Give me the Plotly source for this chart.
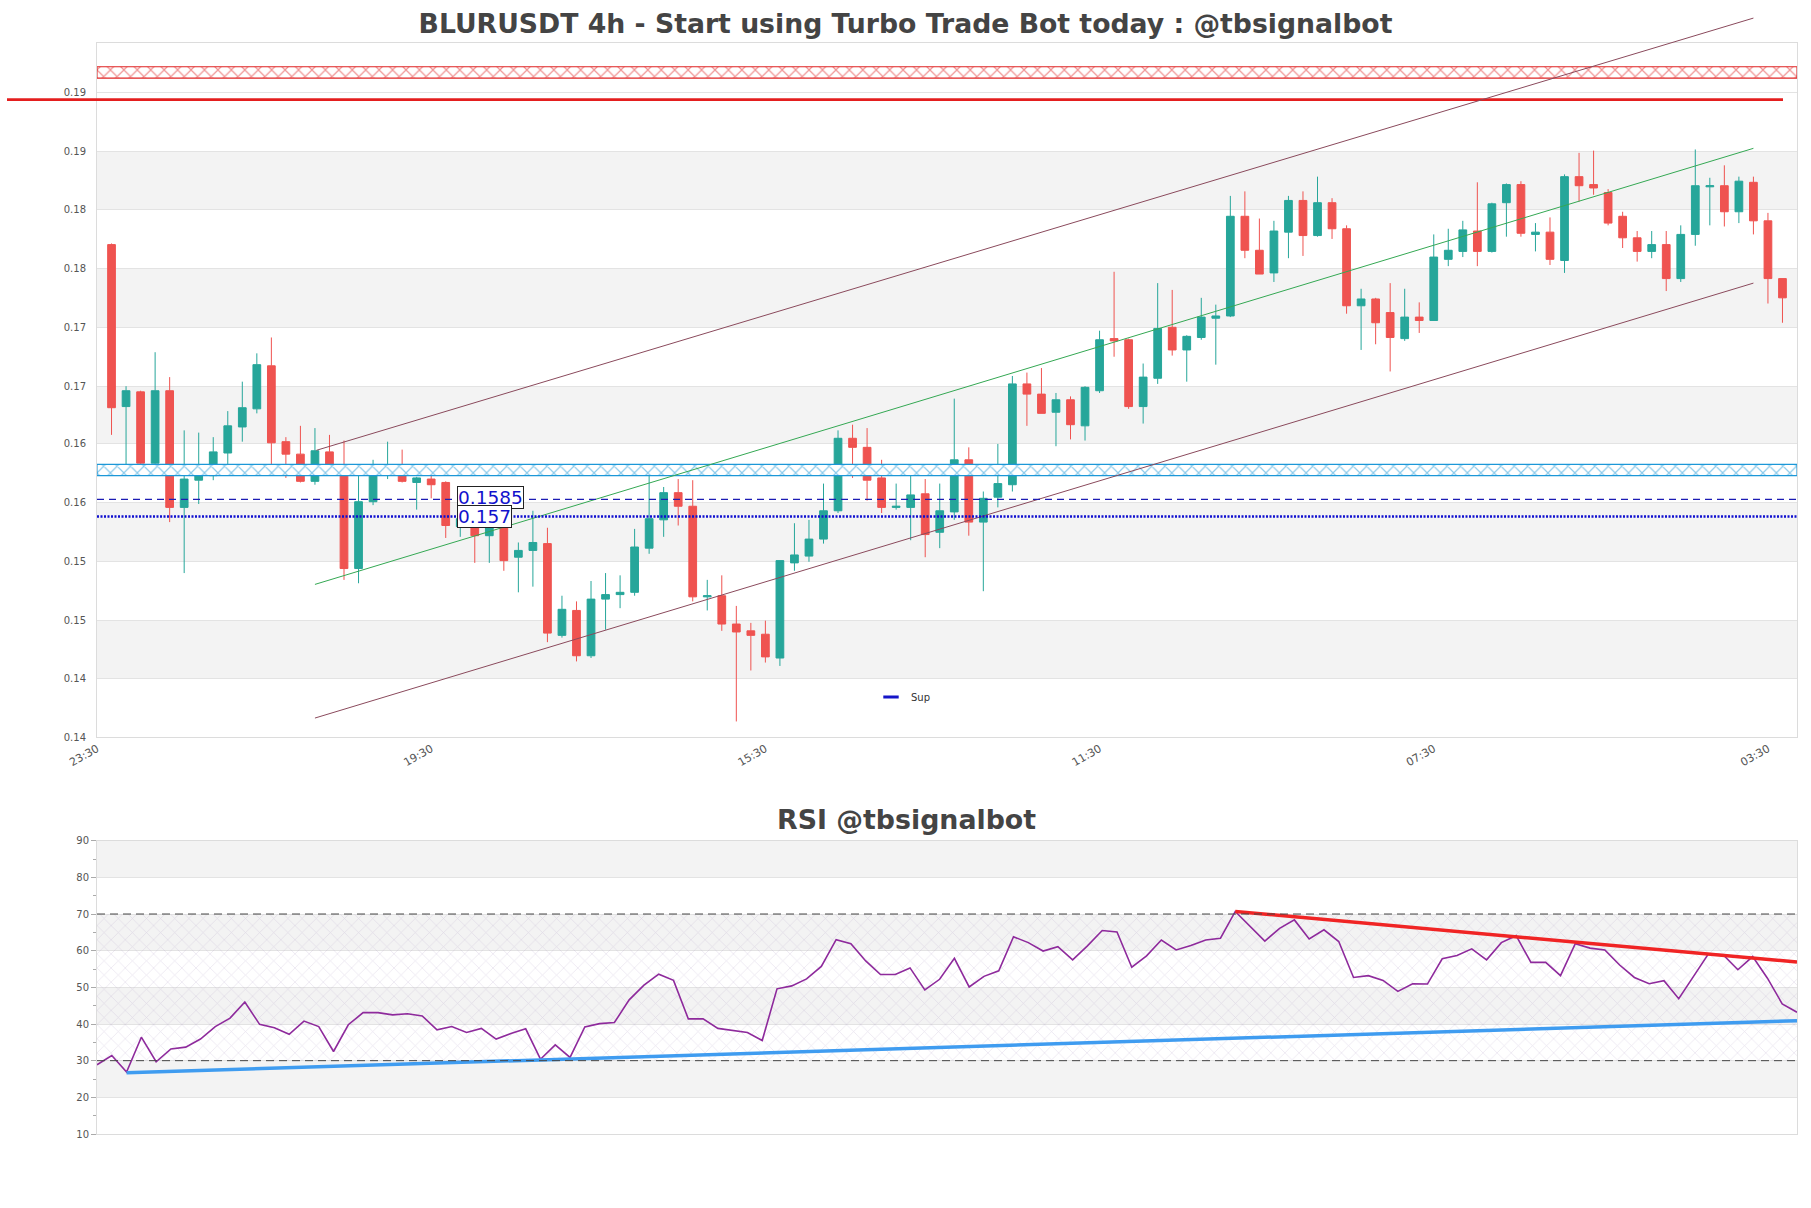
import plotly.graph_objects as go

# ---------------- data ----------------
opens = [0.1810, 0.1667, 0.1680, 0.1617, 0.1681, 0.1578, 0.1602, 0.1606, 0.1626, 0.1649,
         0.1665, 0.1703, 0.1636, 0.1625, 0.1601, 0.1627, 0.1612, 0.1524, 0.1583, 0.1607,
         0.1612, 0.1600, 0.1603, 0.1600, 0.1561, 0.1565, 0.1553, 0.1560, 0.1534, 0.1540,
         0.1546, 0.1465, 0.1487, 0.1447, 0.1497, 0.1501, 0.1503, 0.1542, 0.1567, 0.1591,
         0.1579, 0.1499, 0.1500, 0.1475, 0.1469, 0.1466, 0.1445, 0.1529, 0.1535, 0.1550,
         0.1575, 0.1639, 0.1631, 0.1604, 0.1578, 0.1578, 0.1590, 0.1556, 0.1574, 0.1620,
         0.1565, 0.1587, 0.1598, 0.1687, 0.1678, 0.1662, 0.1673, 0.1650, 0.1681, 0.1727,
         0.1726, 0.1667, 0.1692, 0.1737, 0.1717, 0.1728, 0.1745, 0.1747, 0.1835, 0.1805,
         0.1785, 0.1821, 0.1849, 0.1818, 0.1847, 0.1824, 0.1756, 0.1762, 0.1750, 0.1727,
         0.1746, 0.1743, 0.1797, 0.1804, 0.1822, 0.1804, 0.1847, 0.1863, 0.1819, 0.1821,
         0.1796, 0.1870, 0.1863, 0.1856, 0.1835, 0.1816, 0.1804, 0.1810, 0.1780, 0.1819,
         0.1861, 0.1862, 0.1839, 0.1865, 0.1831, 0.1780]
highs = [0.1811, 0.1685, 0.1681, 0.1715, 0.1693, 0.1646, 0.1644, 0.1640, 0.1663, 0.1689,
         0.1714, 0.1728, 0.1640, 0.1650, 0.1648, 0.1642, 0.1637, 0.1615, 0.1620, 0.1636,
         0.1629, 0.1605, 0.1612, 0.1601, 0.1575, 0.1570, 0.1562, 0.1564, 0.1547, 0.1575,
         0.1560, 0.1500, 0.1495, 0.1513, 0.1520, 0.1518, 0.1559, 0.1606, 0.1596, 0.1603,
         0.1602, 0.1514, 0.1518, 0.1491, 0.1476, 0.1478, 0.1531, 0.1564, 0.1567, 0.1599,
         0.1646, 0.1651, 0.1648, 0.1620, 0.1599, 0.1606, 0.1603, 0.1599, 0.1674, 0.1631,
         0.1592, 0.1634, 0.1694, 0.1697, 0.1701, 0.1679, 0.1676, 0.1685, 0.1734, 0.1786,
         0.1727, 0.1705, 0.1776, 0.1770, 0.1730, 0.1763, 0.1757, 0.1853, 0.1857, 0.1833,
         0.1831, 0.1853, 0.1857, 0.1870, 0.1851, 0.1827, 0.1771, 0.1763, 0.1776, 0.1771,
         0.1759, 0.1819, 0.1824, 0.1831, 0.1865, 0.1847, 0.1864, 0.1866, 0.1829, 0.1834,
         0.1872, 0.1891, 0.1893, 0.1859, 0.1839, 0.1822, 0.1822, 0.1822, 0.1827, 0.1894,
         0.1869, 0.1880, 0.1870, 0.1870, 0.1838, 0.1780]
lows = [0.1642, 0.1616, 0.1615, 0.1606, 0.1565, 0.1520, 0.1581, 0.1602, 0.1614, 0.1636,
        0.1661, 0.1614, 0.1604, 0.1600, 0.1598, 0.1610, 0.1514, 0.1511, 0.1580, 0.1603,
        0.1600, 0.1576, 0.1586, 0.1551, 0.1552, 0.1529, 0.1529, 0.1522, 0.1503, 0.1508,
        0.1459, 0.1463, 0.1442, 0.1445, 0.1470, 0.1489, 0.1500, 0.1537, 0.1552, 0.1562,
        0.1495, 0.1487, 0.1469, 0.1389, 0.1434, 0.1441, 0.1438, 0.1522, 0.1530, 0.1546,
        0.1573, 0.1604, 0.1584, 0.1573, 0.1576, 0.1549, 0.1534, 0.1542, 0.1567, 0.1553,
        0.1504, 0.1578, 0.1592, 0.1650, 0.1661, 0.1632, 0.1638, 0.1637, 0.1679, 0.1711,
        0.1665, 0.1652, 0.1687, 0.1712, 0.1689, 0.1726, 0.1704, 0.1746, 0.1798, 0.1784,
        0.1777, 0.1798, 0.1800, 0.1817, 0.1815, 0.1749, 0.1717, 0.1722, 0.1698, 0.1725,
        0.1732, 0.1743, 0.1791, 0.1799, 0.1791, 0.1803, 0.1817, 0.1817, 0.1804, 0.1792,
        0.1785, 0.1848, 0.1854, 0.1827, 0.1807, 0.1795, 0.1798, 0.1769, 0.1777, 0.1809,
        0.1827, 0.1826, 0.1829, 0.1819, 0.1758, 0.1741]
closes = [0.1666, 0.1681, 0.1617, 0.1681, 0.1578, 0.1603, 0.1606, 0.1627, 0.1650, 0.1666,
          0.1704, 0.1635, 0.1625, 0.1601, 0.1628, 0.1612, 0.1524, 0.1583, 0.1610, 0.1610,
          0.1601, 0.1604, 0.1598, 0.1562, 0.1568, 0.1553, 0.1560, 0.1531, 0.1540, 0.1547,
          0.1467, 0.1488, 0.1447, 0.1497, 0.1501, 0.1503, 0.1543, 0.1568, 0.1591, 0.1579,
          0.1499, 0.1500, 0.1475, 0.1468, 0.1465, 0.1446, 0.1531, 0.1536, 0.1550, 0.1575,
          0.1639, 0.1631, 0.1602, 0.1578, 0.1579, 0.1589, 0.1554, 0.1575, 0.1620, 0.1565,
          0.1586, 0.1599, 0.1687, 0.1678, 0.1661, 0.1673, 0.1651, 0.1684, 0.1726, 0.1725,
          0.1667, 0.1693, 0.1736, 0.1717, 0.1729, 0.1746, 0.1747, 0.1835, 0.1805, 0.1784,
          0.1822, 0.1849, 0.1818, 0.1847, 0.1824, 0.1756, 0.1762, 0.1741, 0.1728, 0.1746,
          0.1743, 0.1799, 0.1805, 0.1823, 0.1804, 0.1846, 0.1863, 0.1820, 0.1821, 0.1797,
          0.1870, 0.1862, 0.1860, 0.1829, 0.1816, 0.1804, 0.1810, 0.1780, 0.1819, 0.1862,
          0.1862, 0.1839, 0.1866, 0.1831, 0.1780, 0.1763]

rsi_values = [28.9, 31.4, 26.9, 36.4, 29.7, 33.2, 33.7, 35.9, 39.3, 41.6,
              46.0, 39.9, 39.0, 37.2, 40.8, 39.3, 32.5, 39.8, 43.1, 43.1,
              42.5, 42.8, 42.2, 38.4, 39.3, 37.7, 38.8, 35.9, 37.4, 38.7,
              30.4, 34.3, 30.9, 39.2, 40.1, 40.4, 46.6, 50.6, 53.6, 51.9,
              41.4, 41.4, 38.8, 38.3, 37.7, 35.5, 49.6, 50.4, 52.3, 55.7,
              63.0, 61.9, 57.2, 53.5, 53.5, 55.3, 49.3, 52.2, 57.9, 50.1,
              53.0, 54.5, 63.8, 62.2, 59.9, 61.1, 57.5, 61.3, 65.5, 65.1,
              55.5, 58.6, 62.9, 60.2, 61.4, 62.9, 63.4, 70.7, 66.6, 62.6,
              66.1, 68.4, 63.2, 65.7, 62.5, 52.7, 53.2, 51.9, 48.9, 51.0,
              50.9, 57.8, 58.7, 60.5, 57.5, 62.2, 64.1, 56.8, 56.8, 53.2,
              61.9, 60.7, 60.2, 56.1, 52.7, 51.0, 51.8, 46.9, 53.0, 59.1,
              58.9, 54.8, 58.4, 52.5, 45.5, 43.2]

x_tick_pos = [-1, 22, 45, 68, 91, 114]
x_tick_text = ["23:30", "19:30", "15:30", "11:30", "07:30", "03:30"]
price_tick_vals = [0.1375, 0.1427, 0.1478, 0.1530, 0.1582, 0.1634,
                   0.1685, 0.1737, 0.1789, 0.1841, 0.1892, 0.1944]
price_tick_text = ["0.14", "0.14", "0.15", "0.15", "0.16", "0.16",
                   "0.17", "0.17", "0.18", "0.18", "0.19", "0.19"]
price_range = [0.1375, 0.1988]
x_range = [-1, 116]

resistance_zone = [0.1957, 0.1967]
resistance_line = 0.1938
support_zone = [0.1606, 0.1616]
support_dashed = 0.1585
support_dotted = 0.157
label_x = 23.8

channel_x = [14, 113]
channel_upper = [0.1628, 0.2010]
channel_mid = [0.1510, 0.1895]
channel_lower = [0.1392, 0.1776]

rsi_range = [10, 90]
rsi_x_range = [0, 115]
rsi_zone = [30, 70]
rsi_support_x = [2, 115]
rsi_support_y = [26.7, 40.9]
rsi_resist_x = [77, 115]
rsi_resist_y = [70.7, 56.9]

# ---------------- styles / layout geometry ----------------
UP = "#26a69a"
DOWN = "#ef5350"
BROWN = "#8a4a5c"
GREEN = "#34a853"
BAND = "#f3f3f3"
GRID = "#e3e3e3"
AXLINE = "#dcdcdc"
FONT = "DejaVu Sans"
W, H = 1811, 1208
M_L, M_R, M_T, M_B = 97, 14, 43, 74
PLOT_H = H - M_T - M_B


def py(pix):  # page pixel row -> paper fraction
    return (H - M_B - pix) / PLOT_H


def px(pix):  # page pixel column -> paper fraction
    return (pix - M_L) / (W - M_L - M_R)


fig = go.Figure()


def zone_trace(lo, hi, color):
    return go.Scatter(
        x=[x_range[0], x_range[1], x_range[1], x_range[0], x_range[0]],
        y=[lo, lo, hi, hi, lo], mode="lines", fill="toself",
        fillcolor="rgba(0,0,0,0)",
        fillpattern=dict(shape="x", fgcolor=color, bgcolor="white",
                         size=9.5, solidity=0.24),
        line=dict(color=color, width=1.1), hoverinfo="skip", showlegend=False,
        xaxis="x", yaxis="y")


fig.add_trace(zone_trace(resistance_zone[0], resistance_zone[1], "#e02525"))
fig.add_trace(zone_trace(support_zone[0], support_zone[1], "#1c98d8"))

idx = list(range(len(opens)))
fig.add_trace(go.Candlestick(
    x=idx, open=opens, high=highs, low=lows, close=closes,
    increasing=dict(line=dict(color=UP, width=1), fillcolor=UP),
    decreasing=dict(line=dict(color=DOWN, width=1), fillcolor=DOWN),
    whiskerwidth=0, showlegend=False, hoverinfo="skip", xaxis="x", yaxis="y"))

fig.add_trace(go.Scatter(x=channel_x, y=channel_mid, mode="lines",
                         line=dict(color=GREEN, width=1), showlegend=False, hoverinfo="skip"))
fig.add_trace(go.Scatter(x=channel_x, y=channel_lower, mode="lines",
                         line=dict(color=BROWN, width=1), showlegend=False, hoverinfo="skip"))
fig.add_annotation(x=channel_x[1], y=channel_upper[1], ax=channel_x[0], ay=channel_upper[0],
                   xref="x", yref="y", axref="x", ayref="y", text="", showarrow=True,
                   arrowhead=0, arrowwidth=1, arrowcolor=BROWN, standoff=0, startstandoff=0)

fig.add_trace(go.Scatter(x=[None], y=[None], mode="markers", name="Sup",
                         marker=dict(symbol="line-ew", size=11,
                                     line=dict(color="#1515c8", width=3)),
                         showlegend=True))

# RSI
fig.add_trace(go.Scatter(
    x=[rsi_x_range[0], rsi_x_range[1], rsi_x_range[1], rsi_x_range[0], rsi_x_range[0]],
    y=[rsi_zone[0], rsi_zone[0], rsi_zone[1], rsi_zone[1], rsi_zone[0]],
    mode="lines", fill="toself", fillcolor="rgba(0,0,0,0)",
    fillpattern=dict(shape="x", fgcolor="rgba(165,145,190,0.5)", bgcolor="rgba(0,0,0,0)",
                     size=10, solidity=0.14),
    line=dict(width=0), hoverinfo="skip", showlegend=False, xaxis="x2", yaxis="y2"))
fig.add_trace(go.Scatter(x=list(range(len(rsi_values))), y=rsi_values, mode="lines",
                         line=dict(color="#8e2a9c", width=1.6), showlegend=False,
                         hoverinfo="skip", xaxis="x2", yaxis="y2"))
fig.add_trace(go.Scatter(x=rsi_support_x, y=rsi_support_y, mode="lines",
                         line=dict(color="#3f9cf0", width=3.5), showlegend=False,
                         hoverinfo="skip", xaxis="x2", yaxis="y2"))
fig.add_trace(go.Scatter(x=rsi_resist_x, y=rsi_resist_y, mode="lines",
                         line=dict(color="#f02424", width=3.5), showlegend=False,
                         hoverinfo="skip", xaxis="x2", yaxis="y2"))

shapes = []
for k in range(1, len(price_tick_vals) - 1, 2):
    shapes.append(dict(type="rect", xref="paper", x0=0, x1=1, yref="y",
                       y0=price_tick_vals[k], y1=price_tick_vals[k + 1],
                       fillcolor=BAND, line=dict(width=0), layer="below"))
for lo in [20, 40, 60, 80]:
    shapes.append(dict(type="rect", xref="paper", x0=0, x1=1, yref="y2",
                       y0=lo, y1=lo + 10, fillcolor=BAND, line=dict(width=0), layer="below"))
shapes.append(dict(type="line", xref="paper", x0=px(7), x1=px(1783), yref="y",
                   y0=resistance_line, y1=resistance_line,
                   line=dict(color="#e41e1e", width=2.6), layer="above"))
shapes.append(dict(type="line", xref="paper", x0=0, x1=1, yref="y",
                   y0=support_dashed, y1=support_dashed,
                   line=dict(color="#1c1cb4", width=1.3, dash="7px,5px"), layer="above"))
shapes.append(dict(type="line", xref="paper", x0=0, x1=1, yref="y",
                   y0=support_dotted, y1=support_dotted,
                   line=dict(color="#0f0fd0", width=2.6, dash="2px,1.5px"), layer="above"))
for lv in rsi_zone:
    shapes.append(dict(type="line", xref="paper", x0=0, x1=1, yref="y2", y0=lv, y1=lv,
                       line=dict(color="#444444", width=1, dash="8px,5px"), layer="above"))

for val, txt, ys in [(support_dashed, "0.1585", 2), (support_dotted, "0.157", 0)]:
    fig.add_annotation(x=label_x, y=val, xref="x", yref="y", text=txt, showarrow=False,
                       xanchor="left", yanchor="middle", yshift=ys,
                       font=dict(family=FONT, size=18.5, color="#1212cc"),
                       bgcolor="white", bordercolor="#222222", borderwidth=1, borderpad=0)

fig.add_annotation(x=px(906), y=py(819), xref="paper", yref="paper",
                   text="RSI @tbsignalbot", showarrow=False, xanchor="center", yanchor="middle",
                   font=dict(family=FONT, size=26.8, color="#444444", weight="bold"))

fig.update_layout(
    width=W, height=H,
    margin=dict(l=M_L, r=M_R, t=M_T, b=M_B),
    paper_bgcolor="white", plot_bgcolor="white",
    font=dict(family=FONT, size=10, color="#555555"),
    title=dict(text="BLURUSDT 4h - Start using Turbo Trade Bot today : @tbsignalbot",
               x=0.5, xref="container", xanchor="center",
               y=1 - 23.5 / H, yref="container", yanchor="middle",
               font=dict(family=FONT, size=26.7, color="#444444", weight="bold")),
    shapes=shapes,
    boxgap=0.24,
    showlegend=True,
    legend=dict(x=px(871), y=py(697), xanchor="left", yanchor="middle",
                xref="paper", yref="paper", bgcolor="rgba(0,0,0,0)",
                font=dict(family=FONT, size=10, color="#333333")),
    xaxis=dict(domain=[0, 1], anchor="y", range=x_range, tickmode="array",
               tickvals=x_tick_pos, ticktext=x_tick_text, tickangle=-30,
               showgrid=False, zeroline=False, showline=True, linecolor=AXLINE, mirror=True,
               ticks="", rangeslider=dict(visible=False),
               tickfont=dict(family=FONT, size=11, color="#555555")),
    yaxis=dict(domain=[py(737.3), 1], anchor="x", range=price_range, tickmode="array",
               tickvals=price_tick_vals, ticktext=price_tick_text,
               showgrid=True, gridcolor=GRID, zeroline=False, showline=True,
               linecolor=AXLINE, mirror=True, ticks="", ticklabelstandoff=8,
               tickfont=dict(family=FONT, size=10, color="#555555")),
    xaxis2=dict(domain=[0, 1], anchor="y2", range=rsi_x_range, showticklabels=False,
                showgrid=False, zeroline=False, showline=True, linecolor=AXLINE, mirror=True,
                ticks=""),
    yaxis2=dict(domain=[0, py(840.7)], anchor="x2", range=rsi_range,
                tickmode="linear", tick0=10, dtick=10, ticks="outside", ticklen=5,
                tickcolor="#aaaaaa",
                minor=dict(ticks="outside", ticklen=3, dtick=5, tick0=10, tickcolor="#aaaaaa",
                           showgrid=False),
                showgrid=True, gridcolor=GRID, zeroline=False, showline=True,
                linecolor=AXLINE, mirror=True,
                tickfont=dict(family=FONT, size=10, color="#555555")),
)

fig.write_html("out.html", config={"displayModeBar": False},
               post_script="document.body.style.margin='0';document.body.style.overflow='hidden';")
